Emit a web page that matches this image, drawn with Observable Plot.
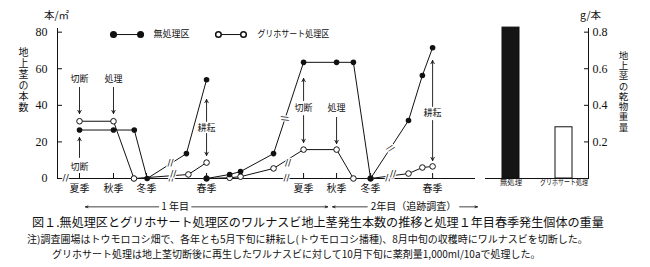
<!DOCTYPE html>
<html><head><meta charset="utf-8">
<script src="https://cdn.jsdelivr.net/npm/d3@7"></script>
<script src="https://cdn.jsdelivr.net/npm/@observablehq/plot@0.6"></script>
<style>
body{margin:0;background:#fff;}
#wrap{position:relative;width:650px;height:267px;font-family:"Noto Sans CJK JP",sans-serif;color:#111;background:#fff;overflow:hidden;}
#left{position:absolute;left:0;top:0;}
#right{position:absolute;left:480px;top:0;}
.cap{position:absolute;white-space:nowrap;}
</style></head><body>
<div id="wrap"><div id="left"></div><div id="right"></div>
<div class="cap" style="left:32px;top:214px;font-size:12.1px;line-height:16px;">図１.無処理区とグリホサート処理区のワルナスビ地上茎発生本数の推移と処理１年目春季発生個体の重量</div>
<div class="cap" style="left:27px;top:232px;font-size:10px;line-height:14px;">注)調査圃場はトウモロコシ畑で、各年とも5月下旬に耕耘し(トウモロコシ播種)、8月中旬の収穫時にワルナスビを切断した。</div>
<div class="cap" style="left:52px;top:247px;font-size:10px;line-height:14px;">グリホサート処理は地上茎切断後に再生したワルナスビに対して10月下旬に薬剤量1,000ml/10aで処理した。</div>
</div>
<script>
// ---- data ----
// x positions: t (one season step ≈ 1 unit, axis broken between seasons)
const seasonT = [0, 1.03, 2.03, 3.85, 6.79, 7.79, 8.82, 10.7];
const seasonLabels = ["夏季","秋季","冬季","春季","夏季","秋季","冬季","春季"];
const yTicks = [0, 20, 40, 60, 80];

// 無処理区 (本/㎡)
const untreatedY1T = [0, 1.03, 1.66, 2.05, 3.24, 3.85];
const untreatedY1  = [26.5, 26.5, 26.5, 0, 13.6, 54];
const untreatedY2T = [3.85, 4.55, 4.88, 5.88, 6.79, 7.79, 8.3, 8.82, 9.97, 10.39, 10.7];
const untreatedY2  = [0, 2.2, 3.8, 13.6, 63.5, 63.5, 63.5, 0, 31.7, 56.3, 71.5];
// グリホサート処理区 (本/㎡)
const glyY1T = [0, 1.03, 1.65, 3.3, 3.85];
const glyY1  = [31.3, 31.3, 0, 2.2, 8.7];
const glyY2T = [3.85, 4.55, 4.88, 5.88, 6.79, 7.79, 8.3, 8.82, 9.97, 10.39, 10.7];
const glyY2  = [0, 0.4, 1.0, 5.5, 15.8, 15.8, 0, 0, 2.7, 6.0, 6.6];

// 1年目春季発生個体の乾物重 (g/本)
const barNames = ["無処理", "グリホサート処理"];
const barValues = [0.825, 0.28];

// annotations
const annText  = ["切断","処理","切断","耕耘","切断","処理","耕耘"];
const annTextT = [0, 1.03, 0, 3.85, 6.79, 7.79, 10.7];
const annTextV = [54.1, 54.1, 6.0, 27.3, 38.3, 38.3, 35.5];
const annArrowT    = [0, 1.03, 0, 3.85, 3.85, 6.79, 6.79, 7.79, 10.7, 10.7];
const annArrowFrom = [49.8, 49.8, 11.5, 31.2, 24.6, 42.6, 34.4, 33.4, 39.4, 31.7];
const annArrowTo   = [35.5, 35.5, 22.4, 43.2, 12.6, 54.7, 19.7, 19.1, 64.5, 9.8];

// axis / line break marks
const breakT = [-0.42, 2.79, 6.27, 9.36, 2.76, 2.84, 6.22, 6.32, 9.42, 9.5];
const breakV = [0, 0, 0, 0, 8.2, 2.4, 32.8, 8.4, 16.5, 2.6];
const breakRot = [0, 0, 0, 0, 0, 0, 80, 0, 40, 0];

// legend
const legendNames = ["無処理区", "グリホサート処理区"];
const legendT1 = [1.03, 4.21];
const legendT2 = [1.85, 4.97];
const legendTextT = [2.24, 5.39];
const legendV = 78.7;

// year labels
const yearLabels = ["1 年目", "2年目（追跡調査）"];
const yearLabelT = [2.9, 10.12];
const yearArrowFrom = [2.4, 3.4, 8.72, 11.52];
const yearArrowTo   = [0.18, 7.52, 7.67, 12.06];
const yearV = -15.5;

// axis titles
const leftUnit = "本/㎡", leftTitle = "地上茎の本数";
const rightUnit = "g/本", rightTitle = "地上茎の乾物重量";

// ---- build tables ----
const rows = [];
function add(ts, vs, treat, seg){ ts.forEach((t,i)=>rows.push({t, v: vs[i], treat, seg})); }
add(untreatedY1T, untreatedY1, "無処理区", "u1");
add(untreatedY2T, untreatedY2, "無処理区", "u2");
add(glyY1T, glyY1, "グリホサート処理区", "g1");
add(glyY2T, glyY2, "グリホサート処理区", "g2");
const seasonName = new Map(seasonT.map((t,i)=>[t, seasonLabels[i]]));
const ann = annText.map((s,i)=>({s, t: annTextT[i], v: annTextV[i]}));
const annArrows = annArrowT.map((t,i)=>({t, a: annArrowFrom[i], b: annArrowTo[i]}));
const breaks = breakT.map((t,i)=>({t, v: breakV[i], r: breakRot[i]}));
const legend = legendNames.map((n,i)=>({n, t1: legendT1[i], t2: legendT2[i], tt: legendTextT[i], filled: i===0}));
const years = yearLabels.map((s,i)=>({s, t: yearLabelT[i]}));
const yearArrows = yearArrowFrom.map((a,i)=>({a, b: yearArrowTo[i]}));
const bars = barNames.map((n,i)=>({n, v: barValues[i]}));

const J = "'Noto Sans CJK JP', sans-serif";
const NUM = "'Liberation Serif', serif";
const INK = "#111";

const leftPlot = Plot.plot({
  width: 480, height: 213,
  marginLeft: 57, marginRight: 5, marginTop: 28, marginBottom: 35,
  style: {fontFamily: J, fontSize: "10px", color: INK, background: "white", overflow: "visible"},
  x: {domain: [-0.667, 12]},
  y: {domain: [0, 82]},
  marks: [
    Plot.ruleY([0], {stroke: INK, strokeWidth: 1}),
    Plot.ruleX([-0.667], {y1: 0, y2: 82, stroke: INK, strokeWidth: 1}),
    Plot.axisY(yTicks, {tickSize: 5, insetLeft: 5, tickPadding: 10, fontFamily: NUM, fontSize: 12, label: null}),
    Plot.axisX(seasonT, {tickSize: 5, insetBottom: 5, tickPadding: 6, tickFormat: d => seasonName.get(d), fontSize: 10, label: null}),
    Plot.line(rows, {x: "t", y: "v", z: "seg", stroke: INK, strokeWidth: 1}),
    Plot.text(breaks, {x: "t", y: "v", rotate: "r", text: () => "//", fontSize: 9, fontFamily: "DejaVu Sans", fill: INK, stroke: "white", strokeWidth: 2.5, paintOrder: "stroke"}),
    Plot.dot(rows.filter(d => d.treat !== "無処理区"), {x: "t", y: "v", r: 2.8, fill: "white", stroke: INK, strokeWidth: 1}),
    Plot.dot(rows.filter(d => d.treat === "無処理区"), {x: "t", y: "v", r: 2.8, fill: INK}),
    // legend
    Plot.link(legend, {x1: "t1", x2: "t2", y1: legendV, y2: legendV, stroke: INK, strokeWidth: 1}),
    Plot.dot(legend.flatMap(d => [{t: d.t1, f: d.filled}, {t: d.t2, f: d.filled}]), {x: "t", y: legendV, r: 2.8, fill: d => d.f ? INK : "white", stroke: INK}),
    Plot.text(legend, {x: "tt", y: legendV, text: "n", textAnchor: "start", fontSize: 9}),
    // annotations
    Plot.arrow(annArrows, {x1: "t", x2: "t", y1: "a", y2: "b", stroke: INK, strokeWidth: 0.9, headLength: 6, headAngle: 55}),
    Plot.text(ann, {x: "t", y: "v", text: "s", fontSize: 9}),
    // year spans
    Plot.arrow(yearArrows, {x1: "a", x2: "b", y1: yearV, y2: yearV, stroke: INK, strokeWidth: 0.8, headLength: 5, headAngle: 40}),
    Plot.text(years, {x: "t", y: yearV, text: "s", fontSize: 10}),
    // axis titles
    Plot.text([leftUnit], {frameAnchor: "top-left", dx: -1, dy: -13, textAnchor: "middle", lineAnchor: "middle", fontSize: 10.5}),
    Plot.text([leftTitle], {frameAnchor: "left", dx: -34, dy: -23, textAnchor: "middle", fontSize: 10})
  ]
});
document.getElementById("left").appendChild(leftPlot);

const rightPlot = Plot.plot({
  width: 170, height: 213,
  marginLeft: 5, marginRight: 62, marginTop: 28, marginBottom: 35,
  style: {fontFamily: J, fontSize: "10px", color: INK, background: "white", overflow: "visible"},
  x: {domain: barNames, paddingInner: 0.68, paddingOuter: 0.31},
  y: {domain: [0, 0.82]},
  marks: [
    Plot.barY(bars, {x: "n", y: "v", fill: d => d.n === "無処理" ? "#151515" : "white", stroke: INK, strokeWidth: 1}),
    Plot.ruleY([0], {stroke: INK, strokeWidth: 1}),
    Plot.frame({anchor: "right", stroke: INK}),
    Plot.axisY([0.2, 0.4, 0.6, 0.8], {anchor: "right", tickSize: 5, insetRight: 5, tickPadding: 4, tickFormat: d3.format(".1f"), fontFamily: NUM, fontSize: 12, label: null}),
    Plot.axisX({tickSize: 0, tickPadding: 1, fontSize: 7.5, label: null}),
    Plot.text([rightUnit], {frameAnchor: "top-right", dx: 2, dy: -13, textAnchor: "middle", lineAnchor: "middle", fontSize: 10.5}),
    Plot.text([rightTitle], {frameAnchor: "right", dx: 35, dy: -12, textAnchor: "middle", fontSize: 9.5})
  ]
});
document.getElementById("right").appendChild(rightPlot);

// condense the narrow katakana labels as in the printed figure
const fitWidths = new Map([["グリホサート処理", 48], ["グリホサート処理区", 72], ["無処理", 22]]);
// vertical (tategaki) axis titles
const vertical = new Map([[leftTitle, "1px"], [rightTitle, "0.8px"]]);
d3.selectAll("#wrap svg text").each(function(){
  const s = this.textContent;
  const w = fitWidths.get(s);
  if (w) d3.select(this).attr("textLength", w).attr("lengthAdjust", "spacingAndGlyphs");
  if (vertical.has(s)) {
    d3.select(this).attr("y", null).attr("dy", null)
      .style("writing-mode", "vertical-rl").style("text-orientation", "upright")
      .style("letter-spacing", vertical.get(s));
  }
});
</script>
</body></html>
